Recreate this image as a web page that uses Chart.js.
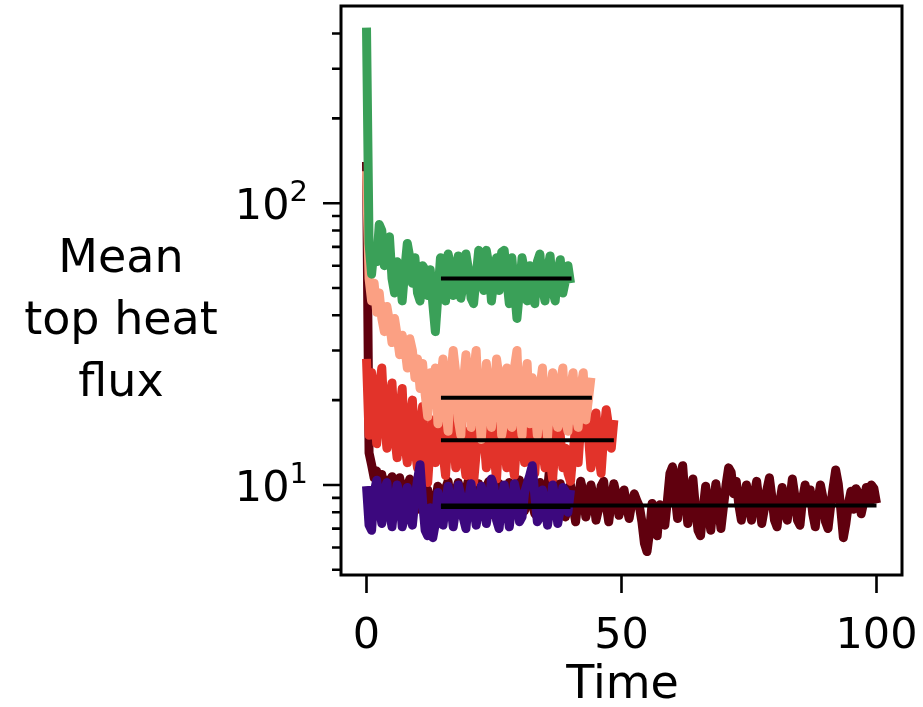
<!DOCTYPE html>
<html>
<head>
<meta charset="utf-8">
<script src="https://cdn.jsdelivr.net/npm/chart.js@4.4.1/dist/chart.umd.min.js"></script>
<style>
  html, body { margin: 0; padding: 0; background: #fff; }
  canvas { display: block; }
</style>
</head>
<body>
<canvas id="heatChart" width="923" height="707"></canvas>
<script>
// sampling step of every run (time units)
const dt = 0.5;

// mean top heat flux per run
const greenRun = [420, 72, 56, 70, 62, 84, 80, 60, 70, 76, 54, 48, 62, 57, 45, 58, 72, 64, 52, 64,
  48, 45, 60, 58, 47, 58, 44, 35, 47, 64, 55, 45, 66, 60, 47, 56, 65, 46, 52, 66,
  58, 46, 44, 55, 68, 62, 49, 68, 60, 45, 54, 64, 49, 67, 68, 54, 44, 64, 50, 39,
  49, 64, 57, 45, 60, 48, 44, 62, 66, 50, 45, 58, 65, 49, 45, 57, 63, 48, 53, 60, 52];

const salmonRun = [130, 54, 45, 52, 41, 48, 39, 35, 43, 38, 32, 39, 34, 29, 34, 31, 26, 33, 30, 24,
  28, 22, 27, 21, 17.5, 25, 21, 26, 16.5, 23, 28, 19, 15.5, 24, 30, 25, 17, 15, 23, 29,
  21, 16, 25, 30, 19, 14.5, 19, 27, 22, 16, 20, 28, 24, 15, 17, 26, 21, 16, 26, 30,
  18, 15, 23, 27, 16.5, 24, 19, 15, 22, 26, 18, 14.8, 21, 25, 18, 16, 23, 26, 17, 15.5,
  22, 25, 18, 16, 22, 25, 17, 20, 24];

const redRun = [28, 15, 25, 20, 14, 22, 26, 17, 13.5, 20, 23, 15, 12.5, 18, 22, 14, 12, 17, 20, 13.5,
  11.5, 16, 19, 12.5, 10.2, 14, 17, 12, 15, 19, 13, 10.8, 15, 20, 16, 11.5, 14.5, 18, 12.5, 10.8,
  15.5, 12, 10.2, 13, 18, 20.5, 15, 11.5, 14, 18, 13, 10.5, 15, 19, 14, 11.5, 16.5, 12.5, 10.8, 15,
  20, 16, 12, 14.5, 18, 12.5, 11, 15, 19, 13.5, 11.5, 16, 12.5, 10.5, 14, 18, 15, 11.5, 13.5, 11,
  10.3, 13, 16, 12, 16.5, 20, 21, 15, 11.5, 14, 18, 13, 11, 15, 18.5, 16, 13.5, 17];

const darkRedRun = [140, 13, 11.8, 10.6, 11.2, 9.4, 10.9, 8.8, 10.4, 8.6, 10.7, 9.4, 8.4, 10.6, 9.6, 8.2, 9.9, 10.5, 8.6, 9.7,
  8.2, 10.1, 9.3, 7.9, 9.6, 8.7, 7.6, 8.6, 9.9, 9.4, 8.3, 9.7, 10.3, 8.6, 8, 9.5, 10.2, 8.8, 8.1, 9.6,
  10.4, 9, 7.9, 8.8, 10.1, 9.2, 8.2, 9.8, 10.3, 8.7, 7.8, 9.3, 10.1, 8.5, 7.9, 9.5, 10.2, 8.8, 8, 9.7,
  10.4, 9, 8.1, 9.1, 10, 8.6, 7.9, 9.3, 10.2, 8.7, 8, 9.6, 11.9, 10.5, 8.5, 9.2, 10.1, 8.3, 7.7, 9.2,
  10, 8.4, 7.4, 8.9, 10.3, 9.4, 7.7, 8.4, 10, 9.1, 7.5, 8.2, 9.9, 10.3, 8.5, 7.4, 8.8, 10.1, 9.2, 7.8,
  8.6, 9.6, 8.4, 7.6, 8.6, 9.3, 8.8, 8.4, 7.4, 6.2, 5.8, 6.8, 8.6, 7.1, 6.6, 8.5, 7.9, 7.2, 8.8, 11,
  11.6, 9.2, 7.6, 10.8, 11.7, 8.8, 7.3, 8.9, 10.5, 8.3, 6.9, 6.6, 8.2, 9.9, 8.3, 6.9, 8.5, 10.1, 8.6, 7,
  8.4, 10, 11.5, 11.1, 9.3, 10.3, 8.5, 7.5, 9, 10, 8.3, 7.5, 9.2, 10.3, 8.6, 7.3, 8.2, 9.6, 10.6, 9,
  7.5, 7.1, 8.6, 9.8, 8.2, 7.5, 8.8, 10.5, 9.1, 7.5, 7.2, 8.9, 10, 8.8, 9.6, 7.9, 7.1, 8.7, 10, 9,
  7.4, 7, 8.4, 9.8, 11.3, 10.1, 8.2, 6.5, 7.3, 8.6, 9.5, 8.2, 9.7, 9.3, 7.9, 8.7, 9.8, 8.8, 10, 9.7, 8.6];

const indigoRun = [9.9, 7.2, 6.9, 9.4, 10.4, 8.5, 7.3, 9.6, 10.2, 8, 7.1, 8.8, 10, 9.2, 7.1, 7.7, 9.8, 8.3, 7.2, 8.9,
  10.4, 11.8, 8.7, 6.9, 6.6, 8.3, 6.5, 7.3, 9.4, 8, 7.2, 8.6, 9.9, 8.7, 7.1, 8.2, 10, 9.2, 7.6, 7,
  8.8, 10.1, 8.5, 7.2, 8.1, 9.9, 9, 7.3, 8.3, 10.5, 9.8, 7.5, 7, 8.8, 10, 8.3, 7.1, 8.5, 10.1, 9.2,
  7.4, 7.7, 9.4, 10.1, 10.8, 11.7, 9.2, 7.4, 7.7, 9.6, 8.5, 7.2, 8.3, 10, 9, 7.3, 8.2, 9.8, 9.5, 8, 9.6];

// time-averaged flux over the statistically steady window
const meanStart = [14.6, 14.6, 14.6, 14.6, 14.6];
const meanEnd = [40.2, 44.2, 48.5, 40, 100];
const meanValue = [54, 20.4, 14.4, 8.35, 8.45];

const xTicks = [0, 50, 100];
const yMajorTicks = [10, 100];
const yMajorExp = ['1', '2'];
const yMinorTicks = [5, 6, 7, 8, 9, 20, 30, 40, 50, 60, 70, 80, 90, 200, 300, 400];
const xTitle = 'Time';
const yTitle = ['Mean', 'top heat', 'flux'];

function toPoints(values) {
  return values.map((v, i) => ({ x: i * dt, y: v }));
}

function runDataset(values, color) {
  return {
    data: toPoints(values),
    borderColor: color,
    borderWidth: 9,
    borderJoinStyle: 'round',
    borderCapStyle: 'butt',
    pointRadius: 0,
    tension: 0
  };
}

const meanSets = meanValue.map((v, i) => ({
  data: [{ x: meanStart[i], y: v }, { x: meanEnd[i], y: v }],
  borderColor: '#000',
  borderWidth: 4,
  borderCapStyle: 'butt',
  pointRadius: 0
}));

// drawn from last to first, so the top layer comes first
const datasets = [
  ...meanSets,
  runDataset(greenRun, '#3aa058'),
  runDataset(indigoRun, '#3c087e'),
  runDataset(salmonRun, '#fba083'),
  runDataset(redRun, '#e2332a'),
  runDataset(darkRedRun, '#60000e')
];

const axesPlugin = {
  id: 'axesPlugin',
  afterDraw(chart) {
    const { ctx, chartArea: a, scales: { x, y } } = chart;
    ctx.save();
    ctx.strokeStyle = '#000';
    ctx.lineWidth = 3;
    ctx.strokeRect(a.left, a.top, a.right - a.left, a.bottom - a.top);

    ctx.lineWidth = 2.6;
    ctx.beginPath();
    xTicks.forEach(t => {
      const px = x.getPixelForValue(t);
      ctx.moveTo(px, a.bottom);
      ctx.lineTo(px, a.bottom + 18);
    });
    yMajorTicks.forEach(v => {
      const py = y.getPixelForValue(v);
      ctx.moveTo(a.left, py);
      ctx.lineTo(a.left - 18, py);
    });
    ctx.stroke();
    ctx.beginPath();
    yMinorTicks.forEach(v => {
      const py = y.getPixelForValue(v);
      ctx.moveTo(a.left, py);
      ctx.lineTo(a.left - 9, py);
    });
    ctx.stroke();

    ctx.fillStyle = '#000';
    ctx.textBaseline = 'alphabetic';
    ctx.textAlign = 'center';
    ctx.font = '43px "DejaVu Sans"';
    xTicks.forEach(t => ctx.fillText(String(t), x.getPixelForValue(t), a.bottom + 73));

    yMajorTicks.forEach((v, i) => {
      const py = y.getPixelForValue(v);
      const right = a.left - 33;
      ctx.textAlign = 'right';
      ctx.font = '29px "DejaVu Sans"';
      const expWidth = ctx.measureText(yMajorExp[i]).width;
      ctx.fillText(yMajorExp[i], right, py - 2);
      ctx.font = '43px "DejaVu Sans"';
      ctx.fillText('10', right - expWidth, py + 16);
    });

    ctx.textAlign = 'center';
    ctx.font = '46px "DejaVu Sans"';
    ctx.fillText(xTitle, (a.left + a.right) / 2 + 1, 698);
    yTitle.forEach((line, i) => ctx.fillText(line, 121, 272 + i * 62));
    ctx.restore();
  }
};

new Chart(document.getElementById('heatChart'), {
  type: 'line',
  data: { datasets },
  options: {
    responsive: false,
    devicePixelRatio: 1,
    animation: false,
    layout: { padding: { left: 341, top: 6, right: 21, bottom: 132 } },
    plugins: { legend: { display: false }, tooltip: { enabled: false } },
    scales: {
      x: { type: 'linear', min: -5, max: 105, display: false },
      y: { type: 'logarithmic', min: 4.79, max: 501, display: false }
    }
  },
  plugins: [axesPlugin]
});
</script>
</body>
</html>
